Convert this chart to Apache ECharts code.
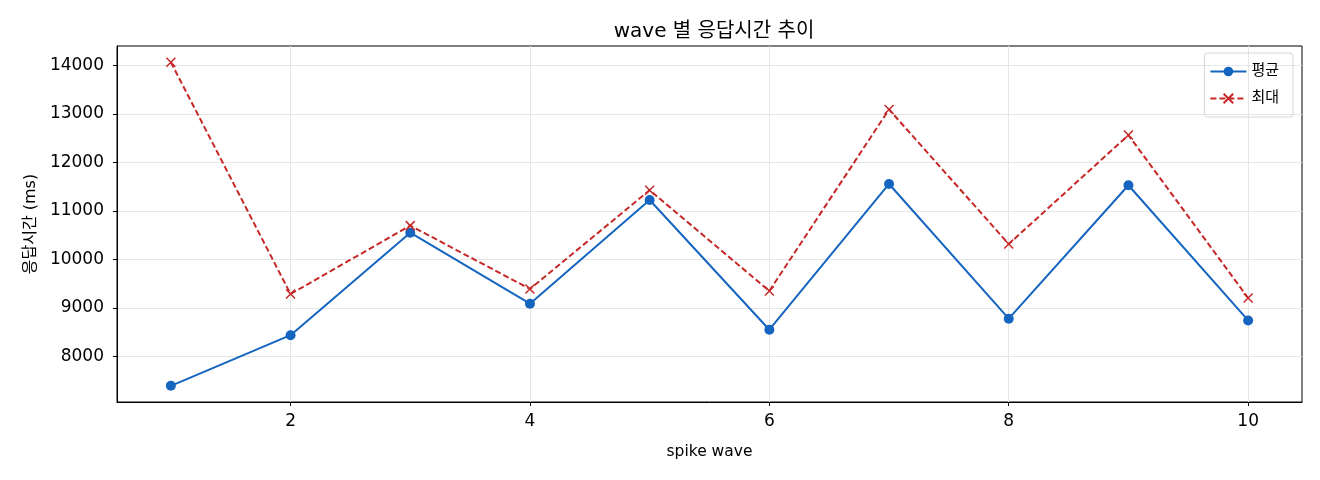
<!DOCTYPE html>
<html lang="ko">
<head>
    <meta charset="UTF-8">
    <title>wave 별 응답시간 추이</title>
    <script src="https://cdn.jsdelivr.net/npm/echarts/dist/echarts.min.js"></script>
    <style>
        html, body { margin: 0; padding: 0; background: #fff; }
        #chart { width: 1320px; height: 480px; }
    </style>
</head>
<body>
    <div id="chart"></div>
    <script>
        // 데이터
        var waves = [1, 2, 3, 4, 5, 6, 7, 8, 9, 10];
        var avgMs = [7390, 8435, 10550, 9085, 11226, 8548, 11556, 8776, 11530, 8740];
        var maxMs = [14070, 9285, 10697, 9390, 11428, 9348, 13094, 10316, 12566, 9202];
        var xTicks = [2, 4, 6, 8, 10];
        var yTicks = [8000, 9000, 10000, 11000, 12000, 13000, 14000];

        var FONT = '"DejaVu Sans", "Noto Sans CJK KR", sans-serif';
        var chart = echarts.init(document.getElementById('chart'));

        function pairs(vals) {
            return waves.map(function (w, i) { return [w, vals[i]]; });
        }
        function plain(v) { return String(v); }

        var gridLine = { show: true, lineStyle: { color: '#e6e6e6', width: 1 } };

        chart.setOption({
            animation: false,
            textStyle: { fontFamily: FONT },
            title: {
                text: 'wave 별 응답시간 추이',
                left: 709,
                textAlign: 'center',
                top: 17,
                textStyle: { fontFamily: FONT, fontSize: 20, fontWeight: 'normal', color: '#000' }
            },
            legend: {
                orient: 'vertical',
                right: 27,
                top: 53,
                itemWidth: 36,
                itemHeight: 12,
                itemGap: 12,
                padding: [11, 14, 11, 5],
                borderColor: '#d6d6d6',
                borderWidth: 1,
                borderRadius: 3,
                textStyle: { fontFamily: FONT, fontSize: 15, color: '#000' },
                data: ['평균', '최대']
            },
            grid: {
                left: 117, right: 18, top: 46, bottom: 78,
                show: true, borderColor: '#000', borderWidth: 1
            },
            xAxis: {
                type: 'value',
                min: 0.55,
                max: 10.45,
                name: 'spike wave',
                nameLocation: 'middle',
                nameGap: 42,
                nameTextStyle: { fontFamily: FONT, fontSize: 15.5, color: '#000' },
                axisLine: { show: true, lineStyle: { color: '#000' } },
                axisTick: { show: true, customValues: xTicks, length: 4, lineStyle: { color: '#000' } },
                axisLabel: { customValues: xTicks, formatter: plain, fontSize: 17, color: '#000', margin: 11 },
                splitLine: gridLine
            },
            yAxis: {
                type: 'value',
                min: 7056,
                max: 14404,
                name: '응답시간 (ms)',
                nameLocation: 'middle',
                nameGap: 78,
                nameTextStyle: { fontFamily: FONT, fontSize: 16, color: '#000' },
                axisLine: { show: true, lineStyle: { color: '#000' } },
                axisTick: { show: true, customValues: yTicks, length: 4, lineStyle: { color: '#000' } },
                axisLabel: { customValues: yTicks, formatter: plain, fontSize: 17, color: '#000', margin: 13 },
                splitLine: gridLine
            },
            series: [
                {
                    name: '평균',
                    type: 'line',
                    data: pairs(avgMs),
                    symbol: 'circle',
                    symbolSize: 10,
                    lineStyle: { color: '#1565C0', width: 2 },
                    itemStyle: { color: '#1565C0' }
                },
                {
                    name: '최대',
                    type: 'line',
                    data: pairs(maxMs),
                    symbol: 'path://M0,0L10,10M10,0L0,10',
                    symbolSize: 9,
                    lineStyle: { color: '#C62828', width: 2, type: [6, 3] },
                    itemStyle: { color: '#C62828', borderColor: '#C62828', borderWidth: 1.5 }
                }
            ]
        });
    </script>
</body>
</html>
